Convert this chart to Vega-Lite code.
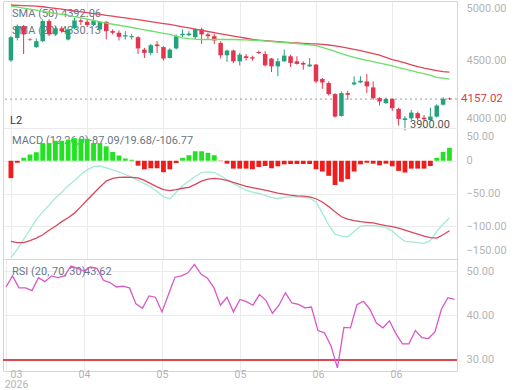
{
  "$schema": "https://vega.github.io/schema/vega-lite/v6.json",
  "padding": {"left": 1, "top": 0, "right": 0, "bottom": 0},
  "spacing": 0,
  "bounds": "flush",
  "background": "white",
  "config": {
    "font": "Roboto",
    "view": {"stroke": "#d6d6d6", "strokeWidth": 1},
    "axis": {"gridColor": "#ebebeb", "gridWidth": 1, "domain": false, "ticks": false, "labelColor": "#b4b4b4", "labelFontSize": 11, "labelFont": "Roboto", "title": null}
  },
  "datasets": {
    "bars": [
      {"i": 0, "o": 4497, "h": 4724, "l": 4483, "c": 4714, "s50": 5033, "s20": 5022, "hist": -26.5, "macd": -148, "sig": -123, "rsi": 46.4},
      {"i": 1, "o": 4707, "h": 4838, "l": 4683, "c": 4822, "s50": 5030, "s20": 5011, "hist": -3, "macd": -135, "sig": -125, "rsi": 48.9},
      {"i": 2, "o": 4822, "h": 4832, "l": 4556, "c": 4741, "s50": 5027, "s20": 5000, "hist": 4.5, "macd": -120, "sig": -125, "rsi": 46.2},
      {"i": 3, "o": 4695, "h": 4705, "l": 4680, "c": 4690, "s50": 5024, "s20": 4990, "hist": 9.5, "macd": -105, "sig": -122, "rsi": 46.2},
      {"i": 4, "o": 4620, "h": 4702, "l": 4613, "c": 4676, "s50": 5022, "s20": 4980, "hist": 13, "macd": -90, "sig": -118, "rsi": 45.6},
      {"i": 5, "o": 4676, "h": 4888, "l": 4669, "c": 4871, "s50": 5015, "s20": 4969, "hist": 27, "macd": -78, "sig": -113, "rsi": 48.5},
      {"i": 6, "o": 4871, "h": 4888, "l": 4724, "c": 4741, "s50": 5007, "s20": 4958, "hist": 27, "macd": -68, "sig": -106, "rsi": 47.6},
      {"i": 7, "o": 4741, "h": 4822, "l": 4732, "c": 4800, "s50": 4998, "s20": 4948, "hist": 30.5, "macd": -57, "sig": -100, "rsi": 48.9},
      {"i": 8, "o": 4800, "h": 4822, "l": 4757, "c": 4773, "s50": 4990, "s20": 4937, "hist": 30.5, "macd": -48, "sig": -93, "rsi": 48.5},
      {"i": 9, "o": 4692, "h": 4806, "l": 4683, "c": 4790, "s50": 4981, "s20": 4927, "hist": 32, "macd": -38, "sig": -87, "rsi": 48.9},
      {"i": 10, "o": 4800, "h": 4904, "l": 4790, "c": 4878, "s50": 4972, "s20": 4916, "hist": 34.5, "macd": -30, "sig": -80, "rsi": 51.1},
      {"i": 11, "o": 4878, "h": 4897, "l": 4832, "c": 4864, "s50": 4963, "s20": 4903, "hist": 33.5, "macd": -21, "sig": -70, "rsi": 50.6},
      {"i": 12, "o": 4864, "h": 4888, "l": 4812, "c": 4832, "s50": 4955, "s20": 4890, "hist": 33.5, "macd": -14, "sig": -60, "rsi": 50.0},
      {"i": 13, "o": 4832, "h": 4921, "l": 4822, "c": 4871, "s50": 4946, "s20": 4877, "hist": 27, "macd": -9, "sig": -50, "rsi": 50.9},
      {"i": 14, "o": 4790, "h": 4871, "l": 4780, "c": 4864, "s50": 4938, "s20": 4863, "hist": 27, "macd": -8, "sig": -40, "rsi": 50.6},
      {"i": 15, "o": 4864, "h": 4871, "l": 4692, "c": 4773, "s50": 4929, "s20": 4851, "hist": 22, "macd": -11, "sig": -31, "rsi": 47.9},
      {"i": 16, "o": 4773, "h": 4790, "l": 4741, "c": 4757, "s50": 4920, "s20": 4840, "hist": 13.5, "macd": -14, "sig": -27, "rsi": 47.4},
      {"i": 17, "o": 4757, "h": 4780, "l": 4683, "c": 4718, "s50": 4911, "s20": 4830, "hist": 8, "macd": -17, "sig": -25.5, "rsi": 46.4},
      {"i": 18, "o": 4721, "h": 4773, "l": 4692, "c": 4733, "s50": 4902, "s20": 4819, "hist": 3.5, "macd": -21, "sig": -25, "rsi": 46.6},
      {"i": 19, "o": 4714, "h": 4747, "l": 4692, "c": 4724, "s50": 4893, "s20": 4808, "hist": 1.5, "macd": -25, "sig": -25.5, "rsi": 46.2},
      {"i": 20, "o": 4714, "h": 4724, "l": 4556, "c": 4608, "s50": 4885, "s20": 4797, "hist": -7.5, "macd": -30, "sig": -26, "rsi": 42.6},
      {"i": 21, "o": 4597, "h": 4613, "l": 4519, "c": 4566, "s50": 4875, "s20": 4785, "hist": -13, "macd": -35, "sig": -30, "rsi": 41.6},
      {"i": 22, "o": 4566, "h": 4650, "l": 4544, "c": 4638, "s50": 4866, "s20": 4774, "hist": -11.5, "macd": -40, "sig": -35, "rsi": 44.4},
      {"i": 23, "o": 4645, "h": 4676, "l": 4566, "c": 4629, "s50": 4856, "s20": 4762, "hist": -11.5, "macd": -47, "sig": -40, "rsi": 44.1},
      {"i": 24, "o": 4620, "h": 4629, "l": 4495, "c": 4514, "s50": 4847, "s20": 4751, "hist": -17.5, "macd": -55, "sig": -44, "rsi": 40.8},
      {"i": 25, "o": 4519, "h": 4608, "l": 4514, "c": 4597, "s50": 4838, "s20": 4741, "hist": -13, "macd": -58, "sig": -45.5, "rsi": 44.7},
      {"i": 26, "o": 4608, "h": 4741, "l": 4597, "c": 4724, "s50": 4827, "s20": 4724, "hist": -3.5, "macd": -48, "sig": -44, "rsi": 48.6},
      {"i": 27, "o": 4733, "h": 4790, "l": 4714, "c": 4747, "s50": 4815, "s20": 4707, "hist": 4.5, "macd": -38, "sig": -42, "rsi": 48.9},
      {"i": 28, "o": 4733, "h": 4773, "l": 4724, "c": 4750, "s50": 4804, "s20": 4700, "hist": 8.5, "macd": -31, "sig": -40.5, "rsi": 49.6},
      {"i": 29, "o": 4714, "h": 4800, "l": 4692, "c": 4790, "s50": 4792, "s20": 4695, "hist": 14.5, "macd": -24, "sig": -36, "rsi": 51.5},
      {"i": 30, "o": 4790, "h": 4806, "l": 4650, "c": 4741, "s50": 4780, "s20": 4692, "hist": 14.5, "macd": -18, "sig": -31, "rsi": 49.3},
      {"i": 31, "o": 4741, "h": 4757, "l": 4692, "c": 4724, "s50": 4769, "s20": 4692, "hist": 12, "macd": -17, "sig": -28, "rsi": 48.4},
      {"i": 32, "o": 4724, "h": 4747, "l": 4650, "c": 4683, "s50": 4758, "s20": 4692, "hist": 8.5, "macd": -18, "sig": -27, "rsi": 46.2},
      {"i": 33, "o": 4660, "h": 4676, "l": 4514, "c": 4544, "s50": 4747, "s20": 4692, "hist": -0.5, "macd": -23, "sig": -28, "rsi": 42.3},
      {"i": 34, "o": 4544, "h": 4597, "l": 4483, "c": 4588, "s50": 4736, "s20": 4692, "hist": -4.5, "macd": -29, "sig": -30, "rsi": 44.1},
      {"i": 35, "o": 4588, "h": 4597, "l": 4471, "c": 4489, "s50": 4725, "s20": 4692, "hist": -12, "macd": -35, "sig": -33, "rsi": 40.8},
      {"i": 36, "o": 4489, "h": 4566, "l": 4452, "c": 4550, "s50": 4714, "s20": 4690, "hist": -12, "macd": -40, "sig": -36, "rsi": 43.6},
      {"i": 37, "o": 4535, "h": 4556, "l": 4495, "c": 4519, "s50": 4704, "s20": 4688, "hist": -12, "macd": -45, "sig": -39, "rsi": 43.1},
      {"i": 38, "o": 4526, "h": 4541, "l": 4495, "c": 4514, "s50": 4694, "s20": 4685, "hist": -13, "macd": -48, "sig": -41, "rsi": 42.3},
      {"i": 39, "o": 4575, "h": 4588, "l": 4556, "c": 4566, "s50": 4685, "s20": 4683, "hist": -9.5, "macd": -50, "sig": -43, "rsi": 44.7},
      {"i": 40, "o": 4556, "h": 4582, "l": 4443, "c": 4452, "s50": 4681, "s20": 4678, "hist": -8, "macd": -53, "sig": -45, "rsi": 43.4},
      {"i": 41, "o": 4514, "h": 4519, "l": 4392, "c": 4443, "s50": 4676, "s20": 4673, "hist": -11.5, "macd": -56, "sig": -47, "rsi": 40.5},
      {"i": 42, "o": 4443, "h": 4519, "l": 4354, "c": 4489, "s50": 4672, "s20": 4668, "hist": -8.5, "macd": -58, "sig": -49.5, "rsi": 42.3},
      {"i": 43, "o": 4489, "h": 4597, "l": 4483, "c": 4541, "s50": 4667, "s20": 4663, "hist": -5.5, "macd": -56, "sig": -51, "rsi": 45.1},
      {"i": 44, "o": 4535, "h": 4550, "l": 4437, "c": 4474, "s50": 4662, "s20": 4659, "hist": -5, "macd": -55, "sig": -52.5, "rsi": 42.8},
      {"i": 45, "o": 4489, "h": 4535, "l": 4459, "c": 4465, "s50": 4659, "s20": 4654, "hist": -5, "macd": -55, "sig": -53.5, "rsi": 42.5},
      {"i": 46, "o": 4474, "h": 4489, "l": 4413, "c": 4459, "s50": 4656, "s20": 4648, "hist": -5, "macd": -56, "sig": -54, "rsi": 41.7},
      {"i": 47, "o": 4443, "h": 4519, "l": 4437, "c": 4459, "s50": 4652, "s20": 4641, "hist": -5, "macd": -57, "sig": -55, "rsi": 41.9},
      {"i": 48, "o": 4459, "h": 4465, "l": 4295, "c": 4309, "s50": 4650, "s20": 4635, "hist": -13, "macd": -63, "sig": -58, "rsi": 36.6},
      {"i": 49, "o": 4330, "h": 4339, "l": 4245, "c": 4300, "s50": 4646, "s20": 4618, "hist": -16.5, "macd": -80, "sig": -63, "rsi": 36.1},
      {"i": 50, "o": 4295, "h": 4309, "l": 4188, "c": 4199, "s50": 4640, "s20": 4598, "hist": -23, "macd": -98, "sig": -70, "rsi": 33.2},
      {"i": 51, "o": 4199, "h": 4208, "l": 4004, "c": 4012, "s50": 4632, "s20": 4580, "hist": -37, "macd": -112, "sig": -78, "rsi": 28.2},
      {"i": 52, "o": 4017, "h": 4222, "l": 4012, "c": 4208, "s50": 4622, "s20": 4560, "hist": -32, "macd": -115, "sig": -85.5, "rsi": 37.3},
      {"i": 53, "o": 4208, "h": 4228, "l": 4151, "c": 4194, "s50": 4611, "s20": 4540, "hist": -28, "macd": -116, "sig": -89, "rsi": 37.2},
      {"i": 54, "o": 4283, "h": 4354, "l": 4275, "c": 4300, "s50": 4600, "s20": 4525, "hist": -16.5, "macd": -108, "sig": -91.5, "rsi": 42.4},
      {"i": 55, "o": 4300, "h": 4354, "l": 4295, "c": 4315, "s50": 4588, "s20": 4510, "hist": -5.5, "macd": -100, "sig": -93, "rsi": 43.2},
      {"i": 56, "o": 4309, "h": 4374, "l": 4208, "c": 4266, "s50": 4574, "s20": 4497, "hist": -3, "macd": -99, "sig": -94, "rsi": 41.4},
      {"i": 57, "o": 4257, "h": 4309, "l": 4151, "c": 4165, "s50": 4560, "s20": 4485, "hist": -4.5, "macd": -99, "sig": -95, "rsi": 38.3},
      {"i": 58, "o": 4165, "h": 4173, "l": 4103, "c": 4137, "s50": 4545, "s20": 4472, "hist": -7, "macd": -100, "sig": -97, "rsi": 37.2},
      {"i": 59, "o": 4123, "h": 4170, "l": 4117, "c": 4159, "s50": 4525, "s20": 4460, "hist": -4.5, "macd": -102, "sig": -99, "rsi": 38.8},
      {"i": 60, "o": 4159, "h": 4165, "l": 4059, "c": 4081, "s50": 4505, "s20": 4447, "hist": -8.5, "macd": -107, "sig": -100.5, "rsi": 35.9},
      {"i": 61, "o": 4075, "h": 4086, "l": 3939, "c": 3993, "s50": 4490, "s20": 4432, "hist": -15.5, "macd": -116, "sig": -103, "rsi": 33.6},
      {"i": 62, "o": 3984, "h": 4016, "l": 3900, "c": 3998, "s50": 4474, "s20": 4418, "hist": -18, "macd": -123, "sig": -106, "rsi": 33.6},
      {"i": 63, "o": 3998, "h": 4067, "l": 3984, "c": 4045, "s50": 4457, "s20": 4404, "hist": -12, "macd": -124, "sig": -109, "rsi": 36.6},
      {"i": 64, "o": 4040, "h": 4053, "l": 3984, "c": 3998, "s50": 4440, "s20": 4390, "hist": -12, "macd": -125, "sig": -112, "rsi": 35.0},
      {"i": 65, "o": 4003, "h": 4025, "l": 3976, "c": 3990, "s50": 4427, "s20": 4378, "hist": -12, "macd": -126, "sig": -115, "rsi": 34.8},
      {"i": 66, "o": 3984, "h": 4086, "l": 3976, "c": 4012, "s50": 4416, "s20": 4362, "hist": -8, "macd": -122, "sig": -117.5, "rsi": 36.3},
      {"i": 67, "o": 4012, "h": 4114, "l": 4004, "c": 4103, "s50": 4405, "s20": 4345, "hist": 4.5, "macd": -108, "sig": -118, "rsi": 41.4},
      {"i": 68, "o": 4110, "h": 4173, "l": 4103, "c": 4160, "s50": 4396, "s20": 4338, "hist": 13.5, "macd": -97, "sig": -113, "rsi": 44.0},
      {"i": 69, "o": 4162, "h": 4170, "l": 4150, "c": 4157.02, "s50": 4392.06, "s20": 4330.13, "hist": 19.68, "macd": -87.09, "sig": -106.77, "rsi": 43.62}
    ]
  },
  "vconcat": [
    {
      "width": 454,
      "height": 127,
      "data": {"name": "bars"},
      "layer": [
        {
          "data": {"values": [{}]},
          "mark": {"type": "text", "x": 9, "y": 13, "align": "left", "baseline": "middle", "fontSize": 11, "color": "#6a7683", "text": "SMA (50)"}
        },
        {
          "data": {"values": [{}]},
          "mark": {"type": "text", "x": 58, "y": 13, "align": "left", "baseline": "middle", "fontSize": 11, "color": "#6a7683", "text": "4392.06"}
        },
        {
          "data": {"values": [{}]},
          "mark": {"type": "text", "x": 9, "y": 30, "align": "left", "baseline": "middle", "fontSize": 11, "color": "#6a7683", "text": "SMA (20)"}
        },
        {
          "data": {"values": [{}]},
          "mark": {"type": "text", "x": 58, "y": 30, "align": "left", "baseline": "middle", "fontSize": 11, "color": "#6a7683", "text": "4330.13"}
        },
        {
          "data": {"values": [{}]},
          "mark": {"type": "text", "x": 7, "y": 120, "align": "left", "baseline": "middle", "fontSize": 11, "color": "#333333", "text": "L2"}
        },
        {
          "data": {"values": [{"p": 4157.02}]},
          "mark": {"type": "rule", "strokeDash": [2, 3], "color": "#9c9c9c", "strokeWidth": 1},
          "encoding": {
            "y": {"field": "p", "type": "quantitative", "scale": {"type": "log", "domain": [3920, 5074], "nice": false, "zero": false},
                  "axis": {"orient": "right", "values": [4000, 4500, 5000], "tickCount": 10, "format": ".2f", "grid": false, "labelPadding": 9}}
          }
        },
        {
          "mark": {"type": "rule", "strokeWidth": 1},
          "encoding": {
            "x": {"field": "i", "type": "quantitative", "scale": {"domain": [-0.46, 69.4], "nice": false, "zero": false},
                  "axis": {"values": [0, 12, 24, 36, 48, 60], "tickCount": 20, "labels": false, "grid": true}},
            "y": {"field": "l", "type": "quantitative"},
            "y2": {"field": "h"},
            "color": {"condition": {"test": "datum.c >= datum.o", "value": "#23a27c"}, "value": "#e5344d"}
          }
        },
        {
          "mark": {"type": "bar", "size": 4.5},
          "encoding": {
            "x": {"field": "i", "type": "quantitative"},
            "y": {"field": "o", "type": "quantitative"},
            "y2": {"field": "c"},
            "color": {"condition": {"test": "datum.c >= datum.o", "value": "#23a27c"}, "value": "#e5344d"}
          }
        },
        {
          "mark": {"type": "line", "color": "#e04558", "strokeWidth": 1.3},
          "encoding": {"x": {"field": "i", "type": "quantitative"}, "y": {"field": "s50", "type": "quantitative"}}
        },
        {
          "mark": {"type": "line", "color": "#6ddf6a", "strokeWidth": 1.3},
          "encoding": {"x": {"field": "i", "type": "quantitative"}, "y": {"field": "s20", "type": "quantitative"}}
        },
        {
          "transform": [
            {"joinaggregate": [{"op": "min", "field": "l", "as": "lmin"}]},
            {"filter": "datum.l == datum.lmin"}
          ],
          "mark": {"type": "text", "align": "left", "baseline": "middle", "dx": 5, "dy": -6, "fontSize": 11, "color": "#555555"},
          "encoding": {
            "x": {"field": "i", "type": "quantitative"},
            "y": {"field": "l", "type": "quantitative"},
            "text": {"field": "l", "type": "quantitative", "format": ".2f"}
          }
        },
        {
          "transform": [{"filter": "datum.i == 69"}],
          "mark": {"type": "text", "align": "left", "baseline": "middle", "dx": 9, "fontSize": 11.5, "color": "#e0384f"},
          "encoding": {
            "x": {"datum": 69.4, "type": "quantitative"},
            "y": {"field": "c", "type": "quantitative"},
            "text": {"field": "c", "type": "quantitative", "format": ".2f"}
          }
        }
      ]
    },
    {
      "width": 454,
      "height": 131,
      "data": {"name": "bars"},
      "layer": [
        {
          "data": {"values": [{}]},
          "mark": {"type": "text", "x": 9, "y": 13, "align": "left", "baseline": "middle", "fontSize": 11, "color": "#6a7683", "text": "MACD (12,26,9)"}
        },
        {
          "data": {"values": [{}]},
          "mark": {"type": "text", "x": 86, "y": 13, "align": "left", "baseline": "middle", "fontSize": 11, "color": "#6a7683", "text": "-87.09/19.68/-106.77"}
        },
        {
          "mark": {"type": "bar", "size": 4.8},
          "encoding": {
            "x": {"field": "i", "type": "quantitative", "scale": {"domain": [-0.46, 69.4], "nice": false, "zero": false},
                  "axis": {"values": [0, 12, 24, 36, 48, 60], "tickCount": 20, "labels": false, "grid": true}},
            "y": {"field": "hist", "type": "quantitative", "scale": {"domain": [-150, 50], "nice": false, "zero": false},
                  "axis": {"orient": "right", "values": [-150, -100, -50, 0, 50], "tickCount": 10, "labelExpr": "datum.value == 0 ? '0' : format(datum.value, '.2f')", "grid": true, "labelPadding": 9, "labelOverlap": false,
                           "labelOffset": {"condition": [{"test": "datum.value == 50", "value": 8}, {"test": "datum.value == -150", "value": -9}], "value": 0}}},
            "y2": {"datum": 0},
            "color": {"condition": {"test": "datum.hist >= 0", "value": "#22e322"}, "value": "#f01b1b"}
          }
        },
        {
          "mark": {"type": "line", "color": "#a4ead6", "strokeWidth": 1.3},
          "encoding": {"x": {"field": "i", "type": "quantitative"}, "y": {"field": "macd", "type": "quantitative"}}
        },
        {
          "mark": {"type": "line", "color": "#d9475c", "strokeWidth": 1.3},
          "encoding": {"x": {"field": "i", "type": "quantitative"}, "y": {"field": "sig", "type": "quantitative"}}
        }
      ]
    },
    {
      "width": 454,
      "height": 112,
      "data": {"name": "bars"},
      "layer": [
        {
          "data": {"values": [{}]},
          "mark": {"type": "text", "x": 9, "y": 13, "align": "left", "baseline": "middle", "fontSize": 11, "color": "#6a7683", "text": "RSI (20, 70, 30)"}
        },
        {
          "data": {"values": [{}]},
          "mark": {"type": "text", "x": 81, "y": 13, "align": "left", "baseline": "middle", "fontSize": 11, "color": "#6a7683", "text": "43.62"}
        },
        {
          "data": {"values": [{}]},
          "mark": {"type": "rule", "color": "#dc4a50", "strokeWidth": 2},
          "encoding": {
            "y": {"datum": 30, "type": "quantitative", "scale": {"domain": [27.5, 52.7], "nice": false, "zero": false},
                  "axis": {"orient": "right", "values": [30, 40, 50], "tickCount": 10, "format": ".2f", "grid": true, "labelPadding": 9}}
          }
        },
        {
          "mark": {"type": "line", "color": "#d957c8", "strokeWidth": 1.3},
          "encoding": {
            "x": {"field": "i", "type": "quantitative", "scale": {"domain": [-0.46, 69.4], "nice": false, "zero": false},
                  "axis": {"values": [0, 12, 24, 36, 48, 60], "tickCount": 20, "grid": true, "labelPadding": -2, "labelFontSize": 10.5, "labelLineHeight": 10,
                           "labelExpr": "datum.value == 0 ? ['03', '2026'] : datum.value == 12 ? '04' : datum.value <= 36 ? '05' : '06'",
                           "labelOffset": {"condition": {"test": "datum.value == 0", "value": 10}, "value": 0}}},
            "y": {"field": "rsi", "type": "quantitative"}
          }
        }
      ]
    }
  ]
}
